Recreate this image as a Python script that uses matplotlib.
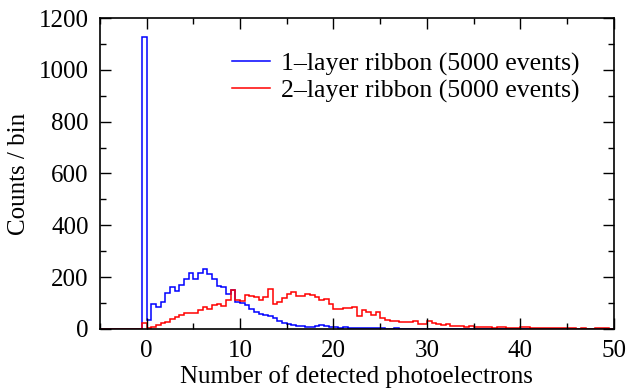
import numpy as np
import matplotlib as mpl
mpl.use("Agg")
import matplotlib.pyplot as plt
from matplotlib.ticker import MultipleLocator

mpl.rcParams["font.family"] = ["Liberation Serif", "DejaVu Serif"]
mpl.rcParams["font.size"] = 18

# histogram binning: 0.5 p.e. bins from -5 to 50
x_lo, x_hi, n_bins = -5.0, 50.0, 110

# counts per bin (bins -5 .. -0.5 first, then 0 .. 50)
one_layer = [0, 0, 0, 0, 0, 0, 0, 0, 0, 1125,
             35, 97, 85, 104, 137, 162, 147, 169, 191, 214,
             192, 214, 231, 210, 191, 166, 163, 134, 152, 103,
             100, 93, 76, 66, 57, 54, 50, 41, 32, 23,
             19, 16, 13, 10, 9, 8, 12, 14, 10, 8,
             6, 5, 6, 4, 4, 3, 5, 3, 2, 2,
             2, 1, 1, 2, 1, 1, 0, 1, 1, 0,
             1, 0, 0, 1, 0, 0, 0, 0, 1, 0,
             0, 0, 0, 0, 0, 0, 0, 0, 0, 0,
             0, 0, 0, 0, 0, 0, 0, 0, 0, 0,
             0, 0, 0, 0, 0, 0, 0, 0, 0, 0]

two_layer = [0, 0, 0, 0, 0, 0, 0, 0, 0, 24,
             4, 9, 15, 22, 28, 37, 44, 54, 60, 62,
             62, 73, 86, 77, 93, 97, 90, 113, 150, 110,
             108, 129, 126, 123, 112, 124, 153, 97, 104, 120,
             133, 141, 126, 127, 133, 129, 122, 110, 114, 97,
             76, 76, 80, 80, 85, 51, 71, 65, 52, 67,
             43, 36, 31, 31, 27, 26, 28, 30, 20, 20,
             31, 24, 19, 14, 18, 13, 13, 12, 7, 10,
             6, 8, 6, 6, 5, 8, 6, 4, 4, 5,
             7, 6, 4, 3, 5, 3, 3, 2, 2, 3,
             2, 2, 1, 2, 1, 1, 4, 5, 2, 1]

labels = ["1\u2013layer ribbon (5000 events)", "2\u2013layer ribbon (5000 events)"]

edges = np.linspace(x_lo, x_hi, n_bins + 1)

fig = plt.figure(figsize=(6.28, 3.92), dpi=100)
ax = fig.add_axes([0.159, 0.161, 0.8185, 0.793])

ax.stairs(one_layer, edges, color="#0000ff", lw=1.1, label=labels[0])
ax.stairs(two_layer, edges, color="#ff0000", lw=1.1, label=labels[1])

ax.set_xlim(x_lo, x_hi)
ax.set_ylim(0, 1200)
ax.xaxis.set_major_locator(MultipleLocator(10))
ax.xaxis.set_minor_locator(MultipleLocator(5))
ax.yaxis.set_major_locator(MultipleLocator(200))
ax.yaxis.set_minor_locator(MultipleLocator(100))
ax.tick_params(which="both", direction="in", top=True, right=True, width=1.0)
ax.tick_params(which="major", length=8)
ax.tick_params(which="minor", length=4)
ax.tick_params(axis="x", which="major", pad=8)
ax.tick_params(axis="y", which="major", pad=8)
for s in ax.spines.values():
    s.set_linewidth(1.2)

ax.set_xlabel("Number of detected photoelectrons", labelpad=2)
ax.set_ylabel("Counts / bin", labelpad=6)

ax.legend(loc="upper left", bbox_to_anchor=(0.257, 0.89), frameon=False,
          handlelength=1.5, handletextpad=0.42, labelspacing=0.15,
          borderpad=0, borderaxespad=0, fontsize=18.5)

fig.savefig("out.png", dpi=100)
